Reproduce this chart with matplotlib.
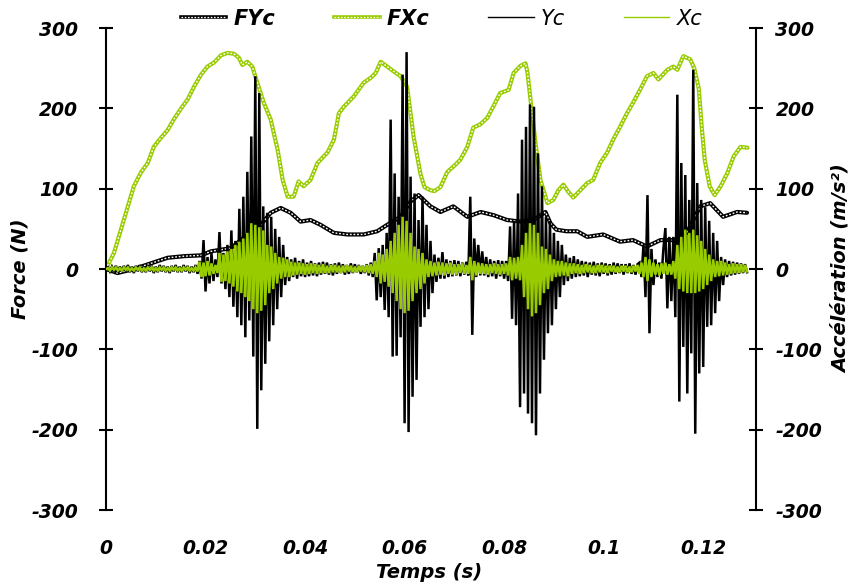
import numpy as np
import matplotlib
matplotlib.use("Agg")
import matplotlib.pyplot as plt
from matplotlib.lines import Line2D
from matplotlib.legend_handler import HandlerTuple

# ---------------- data ----------------
# Force FXc (N), left axis
fxc_t = [0.0, 0.0016, 0.0030, 0.0044, 0.0056, 0.0070, 0.0084, 0.0096, 0.0110, 0.0124,
         0.0136, 0.0151, 0.0164, 0.0177, 0.0191, 0.0204, 0.0217, 0.0231, 0.0244, 0.0257,
         0.0267, 0.0274, 0.0284, 0.0294, 0.0304, 0.0317, 0.0331, 0.0345, 0.0355, 0.0365,
         0.0377, 0.0387, 0.0397, 0.0411, 0.0425, 0.0445, 0.0458, 0.0468, 0.0478, 0.0498,
         0.0518, 0.0532, 0.0542, 0.0552, 0.0565, 0.0578, 0.0592, 0.0605, 0.0618, 0.0632,
         0.0640, 0.0652, 0.0660, 0.0672, 0.0686, 0.0699, 0.0712, 0.0726, 0.0738, 0.0752,
         0.0766, 0.0778, 0.0792, 0.0809, 0.0819, 0.0833, 0.0843, 0.0847, 0.0853, 0.0863,
         0.0873, 0.0887, 0.0899, 0.0909, 0.0919, 0.0929, 0.0939, 0.0953, 0.0967, 0.0979,
         0.0993, 0.1007, 0.1019, 0.1033, 0.1047, 0.1059, 0.1073, 0.1087, 0.1100, 0.1110,
         0.1128, 0.1140, 0.1148, 0.1160, 0.1174, 0.1182, 0.1191, 0.1197, 0.1203, 0.1213,
         0.1223, 0.1235, 0.1249, 0.1261, 0.1275, 0.1289]
fxc = [0, 20, 49, 78, 103, 120, 132, 152, 163, 173,
       186, 200, 211, 227, 242, 252, 257, 266, 269, 268,
       263, 254, 258, 252, 232, 207, 186, 148, 111, 90,
       90, 109, 103, 111, 132, 145, 161, 194, 202, 215,
       232, 238, 244, 258, 252, 246, 240, 227, 165, 118,
       102, 98, 97, 102, 121, 128, 136, 152, 176, 180,
       188, 202, 219, 223, 244, 253, 256, 244, 211, 157,
       111, 82, 86, 98, 105, 96, 89, 98, 107, 111,
       132, 145, 161, 177, 194, 207, 223, 240, 244, 236,
       248, 252, 248, 265, 261, 250, 225, 177, 136, 103,
       92, 103, 120, 140, 152, 151]

# Force FYc (N), left axis
fyc_t = [0.0, 0.0023, 0.0056, 0.0090, 0.0124, 0.0157, 0.0191, 0.0211, 0.0231, 0.0251,
         0.0271, 0.0291, 0.0311, 0.0331, 0.0351, 0.0371, 0.0391, 0.0411, 0.0431, 0.0458,
         0.0485, 0.0518, 0.0545, 0.0565, 0.0592, 0.0612, 0.0628, 0.0652, 0.0672, 0.0698,
         0.0726, 0.0753, 0.0779, 0.0806, 0.0833, 0.0859, 0.0883, 0.0893, 0.0905, 0.0925,
         0.0947, 0.0967, 0.0999, 0.1033, 0.1059, 0.1087, 0.1114, 0.1147, 0.1167, 0.1194,
         0.1214, 0.1240, 0.1268, 0.1288]
fyc = [0, -5, 0, 7, 14, 16, 17, 22, 24, 26,
       36, 45, 55, 70, 76, 70, 59, 61, 55, 45,
       43, 43, 47, 55, 65, 84, 92, 78, 71, 78,
       65, 71, 67, 61, 59, 61, 71, 57, 49, 47,
       47, 40, 43, 34, 36, 28, 36, 36, 45, 78,
       82, 65, 71, 70]

# Accelerations (m/s^2), right axis, sampled every 0.4 ms
acc_dt = 0.0004
yc = [0, 2, -3, 3, -2, 4, -4, 3, -3, 4,
      -3, 5, -4, 3, -5, 4, -3, 5, -4, 3,
      -4, 5, -3, 4, -5, 3, -4, 5, -3, 4,
      -4, 3, -5, 4, -3, 5, -4, 3, -4, 5,
      -3, 4, -5, 3, -4, 5, -6, 10, -12, 36,
      -28, 15, -18, 20, -15, 12, -10, 46, -18, 20,
      -25, 30, -35, 48, -47, 35, -60, 75, -70, 90,
      -85, 121, -64, 165, -109, 240, -199, 219, -151, 78,
      -118, 70, -90, 65, -70, 50, -50, 40, -35, 30,
      -20, 15, -15, 12, -10, 14, -12, 10, -9, 12,
      -10, 8, -9, 10, -8, 7, -9, 8, -7, 9,
      -6, 8, -7, 6, -8, 7, -6, 8, -5, 6,
      -7, 5, -6, 7, -5, 6, -4, 5, -6, 4,
      -5, 6, -8, 8, -10, 20, -39, 26, -35, 30,
      -51, 45, -60, 186, -109, 119, -108, 90, -85, 242,
      -192, 270, -203, 115, -159, 94, -138, 61, -72, 90,
      -60, 55, -50, 35, -30, 18, -16, 14, -12, 21,
      -12, 12, -10, 10, -9, 11, -8, 10, -9, 8,
      -7, 9, -8, 90, -82, 38, -10, 30, -8, 22,
      -8, 15, -10, 12, -9, 10, -12, 11, -9, 10,
      -12, 10, -15, 53, -62, 60, -70, 94, -172, 161,
      -155, 177, -180, 205, -192, 202, -207, 144, -155, 103,
      -113, 65, -80, 60, -70, 45, -50, 35, -35, 30,
      -20, 18, -15, 14, -12, 16, -10, 12, -9, 10,
      -8, 9, -10, 8, -7, 9, -8, 7, -9, 8,
      -6, 7, -8, 6, -7, 8, -6, 7, -5, 6,
      -7, 6, -5, 7, -6, 5, -7, 6, 8, -10,
      30, -35, 92, -80, 25, -20, 12, -10, 8, -12,
      25, 51, -49, 40, -40, 40, -60, 217, -165, 132,
      -97, 117, -155, 86, -105, 248, -205, 107, -130, 86,
      -122, 77, -72, 60, -70, 45, -55, 35, -40, 15,
      -20, 12, -10, 10, -8, 9, -7, 8, -6, 7,
      -5, 6, -4]
xc = [0, 1, -2, 2, -1, 2, -2, 1, -2, 2,
      -1, 2, -2, 1, -2, 2, -1, 2, -2, 1,
      -2, 2, -1, 2, -2, 1, -2, 2, -1, 2,
      -2, 1, -2, 2, -1, 2, -2, 1, -2, 2,
      -1, 2, -2, 1, -2, 2, -3, 9, -10, 8,
      -9, 10, -8, 7, -6, 5, -5, 20, -16, 18,
      -15, 22, -18, 25, -22, 30, -28, 34, -30, 38,
      -35, 45, -40, 57, -50, 55, -55, 52, -52, 48,
      -45, 30, -30, 28, -25, 20, -18, 15, -12, 14,
      -10, 12, -10, 9, -8, 8, -7, 8, -6, 7,
      -7, 6, -6, 7, -5, 6, -6, 5, -5, 6,
      -5, 4, -5, 5, -4, 5, -4, 4, -5, 4,
      -4, 5, -3, 4, -4, 3, -4, 4, -3, 4,
      -4, 5, -5, 6, -6, 10, -10, 20, -18, 18,
      -16, 25, -22, 35, -30, 45, -40, 55, -50, 65,
      -55, 60, -52, 45, -40, 28, -30, 25, -25, 20,
      -18, 12, -10, 10, -9, 8, -8, 9, -7, 8,
      -8, 7, -6, 8, -7, 6, -7, 6, -5, 7,
      -6, 5, -6, 15, -14, 10, -8, 8, -6, 7,
      -6, 6, -7, 6, -5, 7, -6, 6, -7, 6,
      -6, 7, -8, 15, -14, 14, -12, 15, -14, 30,
      -35, 45, -50, 57, -59, 55, -55, 45, -45, 28,
      -30, 25, -25, 18, -15, 12, -10, 10, -9, 10,
      -8, 8, -9, 7, -6, 7, -5, 6, -6, 5,
      -5, 6, -4, 5, -5, 4, -5, 5, -4, 5,
      -4, 4, -5, 4, -3, 4, -4, 3, -4, 4,
      -3, 4, -4, 3, -4, 4, -3, 5, -6, 8,
      -10, 15, -15, 12, -10, 8, -7, 6, -8, 7,
      -6, 8, -7, 6, -7, 10, -12, 30, -25, 40,
      -28, 49, -30, 45, -30, 49, -30, 42, -28, 35,
      -25, 25, -20, 18, -15, 12, -10, 10, -9, 10,
      -8, 8, -7, 6, -6, 7, -5, 6, -5, 6,
      -4, 5, -3]
acc_t = np.arange(len(yc)) * acc_dt

x_ticks = [0, 0.02, 0.04, 0.06, 0.08, 0.10, 0.12]
x_labels = ["0", "0.02", "0.04", "0.06", "0.08", "0.1", "0.12"]
y_ticks = [-300, -200, -100, 0, 100, 200, 300]

GREEN = "#99CC00"
BLACK = "#000000"

# ---------------- figure ----------------
fig = plt.figure(figsize=(8.54, 5.85), dpi=100)
ax = fig.add_axes([0.1241, 0.1282, 0.7611, 0.8239])
ax2 = ax.twinx()

def chain(a, t, v, color, lw_out=3.0, lw_in=1.0):
    outer, = a.plot(t, v, color=color, lw=lw_out, solid_joinstyle="round",
                    solid_capstyle="round", zorder=2)
    inner, = a.plot(t, v, color="white", lw=lw_in, linestyle=(0, (1.3, 1.3)),
                    zorder=3)
    return (outer, inner)

chain(ax, fyc_t, fyc, BLACK)
chain(ax, fxc_t, fxc, GREEN)
ax2.plot(acc_t, yc, color=BLACK, lw=1.8, solid_joinstyle="miter")
ax2.plot(acc_t, xc, color=GREEN, lw=1.8, solid_joinstyle="miter")

tickfont = dict(fontsize=13.5, fontweight="bold", fontstyle="italic")
for a in (ax, ax2):
    a.set_xlim(0, 0.1306)
    a.set_ylim(-300, 300)
    a.set_yticks(y_ticks)
    for s in ("top", "bottom"):
        a.spines[s].set_visible(False)
ax.spines["right"].set_visible(False)
ax2.spines["left"].set_visible(False)
ax.spines["left"].set_linewidth(1.5)
ax2.spines["right"].set_linewidth(1.5)

ax.set_xticks(x_ticks)
ax.set_xticklabels(x_labels, **tickfont)
ax.tick_params(axis="x", length=0, pad=21)
ax.set_yticklabels([str(v) for v in y_ticks], **tickfont)
ax.tick_params(axis="y", direction="inout", length=10, width=1.5, pad=15)
ax2.set_yticklabels([str(v) for v in y_ticks], **tickfont)
ax2.tick_params(axis="y", direction="inout", length=10, width=1.5, pad=9)

labfont = dict(fontsize=14, fontweight="bold", fontstyle="italic")
fig.text(0.024, 0.54, "Force (N)", rotation=90, ha="center", va="center", **labfont)
fig.text(0.985, 0.54, "Accélération (m/s²)", rotation=90, ha="center", va="center", **labfont)
fig.text(0.503, 0.022, "Temps (s)", ha="center", va="center", **labfont)

# legend proxies (same styles as the series, thinner for the plain lines)
def chain_proxy(color):
    return (Line2D([], [], color=color, lw=2.6),
            Line2D([], [], color="white", lw=0.9, linestyle=(0, (1.3, 1.3))))

handles = [chain_proxy(BLACK), chain_proxy(GREEN),
           Line2D([], [], color=BLACK, lw=1.0), Line2D([], [], color=GREEN, lw=1.0)]
leg = fig.legend(handles, ["FYc", "FXc", "Yc", "Xc"],
                 handler_map={tuple: HandlerTuple(ndivide=1)},
                 loc="center", bbox_to_anchor=(0.517, 0.968), ncol=4,
                 frameon=False, fontsize=15, handlelength=2.2,
                 handletextpad=0.35, columnspacing=2.8)
for txt, w in zip(leg.get_texts(), ["bold", "bold", "normal", "normal"]):
    txt.set_fontstyle("italic")
    txt.set_fontweight(w)

fig.savefig("out.png", dpi=100)
